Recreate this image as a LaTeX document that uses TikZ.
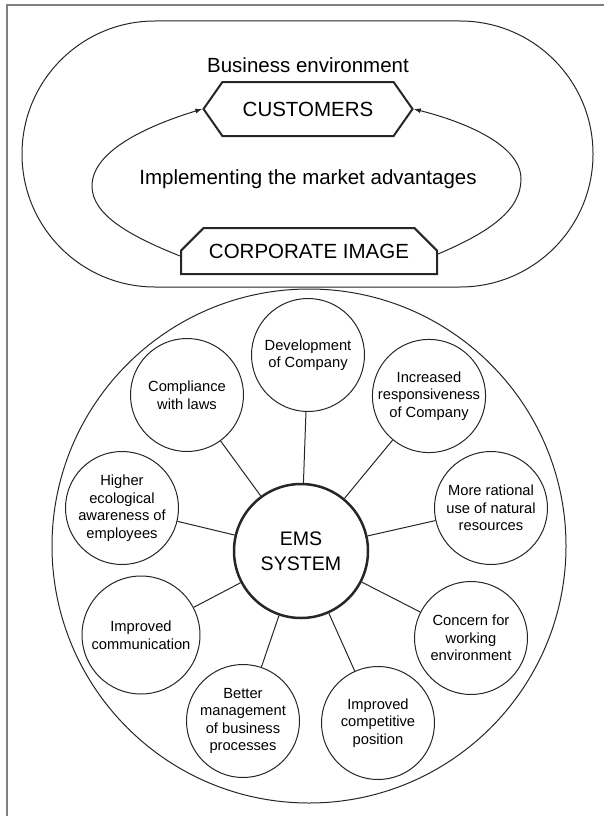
\documentclass[tikz,border=0pt]{standalone}
\usepackage{fontspec}
\setmainfont{Liberation Sans}
\usetikzlibrary{shapes.symbols,shapes.misc,arrows.meta}

\begin{document}
\begin{tikzpicture}[x=1pt,y=-1pt,
  ink/.style={draw=black!85},
  bigtext/.style={font=\fontsize{20.5}{24}\selectfont},
  gain/.style={ink, circle, line width=1pt, minimum size=113pt, inner sep=0pt, align=center, font=\fontsize{14.7}{17.5}\selectfont}]
\useasboundingbox (0,0) rectangle (604,816);
\draw[gray, line width=2pt] (7,816) -- (7,5) -- (604,5);

% business environment
\draw[ink, line width=1pt, rounded corners=132.9pt] (22,21) rectangle (593,287);
\node[bigtext] (env) at (308,65) {Business environment};
\node[bigtext, ink, line width=2pt, signal, signal to=west and east, signal pointer angle=110, minimum width=209pt, minimum height=54pt] (cust) at (308,109) {CUSTOMERS};
\node[bigtext] (adv) at (308,179) {Implementing the market advantages};
\node[bigtext, ink, line width=2pt, chamfered rectangle, chamfered rectangle corners={north west,north east}, chamfered rectangle xsep=13pt, chamfered rectangle ysep=12pt, minimum width=256pt, minimum height=46pt] (corp) at (309,251) {CORPORATE IMAGE};

\draw[ink, line width=1pt, -{Latex[length=7pt,width=5pt]}] ([yshift=-5pt]corp.west) .. controls (130,236) and (92,215) .. (92,186) .. controls (92,150) and (150,125) .. (cust.west);
\draw[ink, line width=1pt, -{Latex[length=7pt,width=5pt]}] ([yshift=-3pt]corp.east) .. controls (490,232) and (521,210) .. (521,179) .. controls (521,145) and (465,122) .. (cust.east);

% EMS system
\node[ink, circle, line width=1pt, minimum size=514pt] (unit) at (309,546) {};
\node[ink, circle, line width=2.5pt, minimum size=134pt, inner sep=0pt, align=center, font=\fontsize{19.6}{25}\selectfont] (ems) at (301,551) {EMS\\SYSTEM};

\node[gain] (dev) at (308,355) {Development\\of Company};
\node[gain] (resp) at (429,396) {Increased\\responsiveness\\of Company};
\node[gain] (res) at (491,508) {More rational\\use of natural\\resources};
\node[gain] (work) at (471,638) {Concern for\\working\\environment};
\node[gain] (comp) at (378,723) {Improved\\competitive\\position};
\node[gain] (proc) at (243,721) {Better\\management\\of business\\processes};
\node[gain, minimum size=118pt] (comm) at (141,635) {Improved\\communication};
\node[gain] (eco) at (122,508) {Higher\\ecological\\awareness of\\employees};
\node[gain] (law) at (187,395) {Compliance\\with laws};

\foreach \n in {dev,resp,res,work,comp,proc,comm,eco,law}
  \draw[ink, line width=1pt] (ems) -- (\n);
\end{tikzpicture}
\end{document}
